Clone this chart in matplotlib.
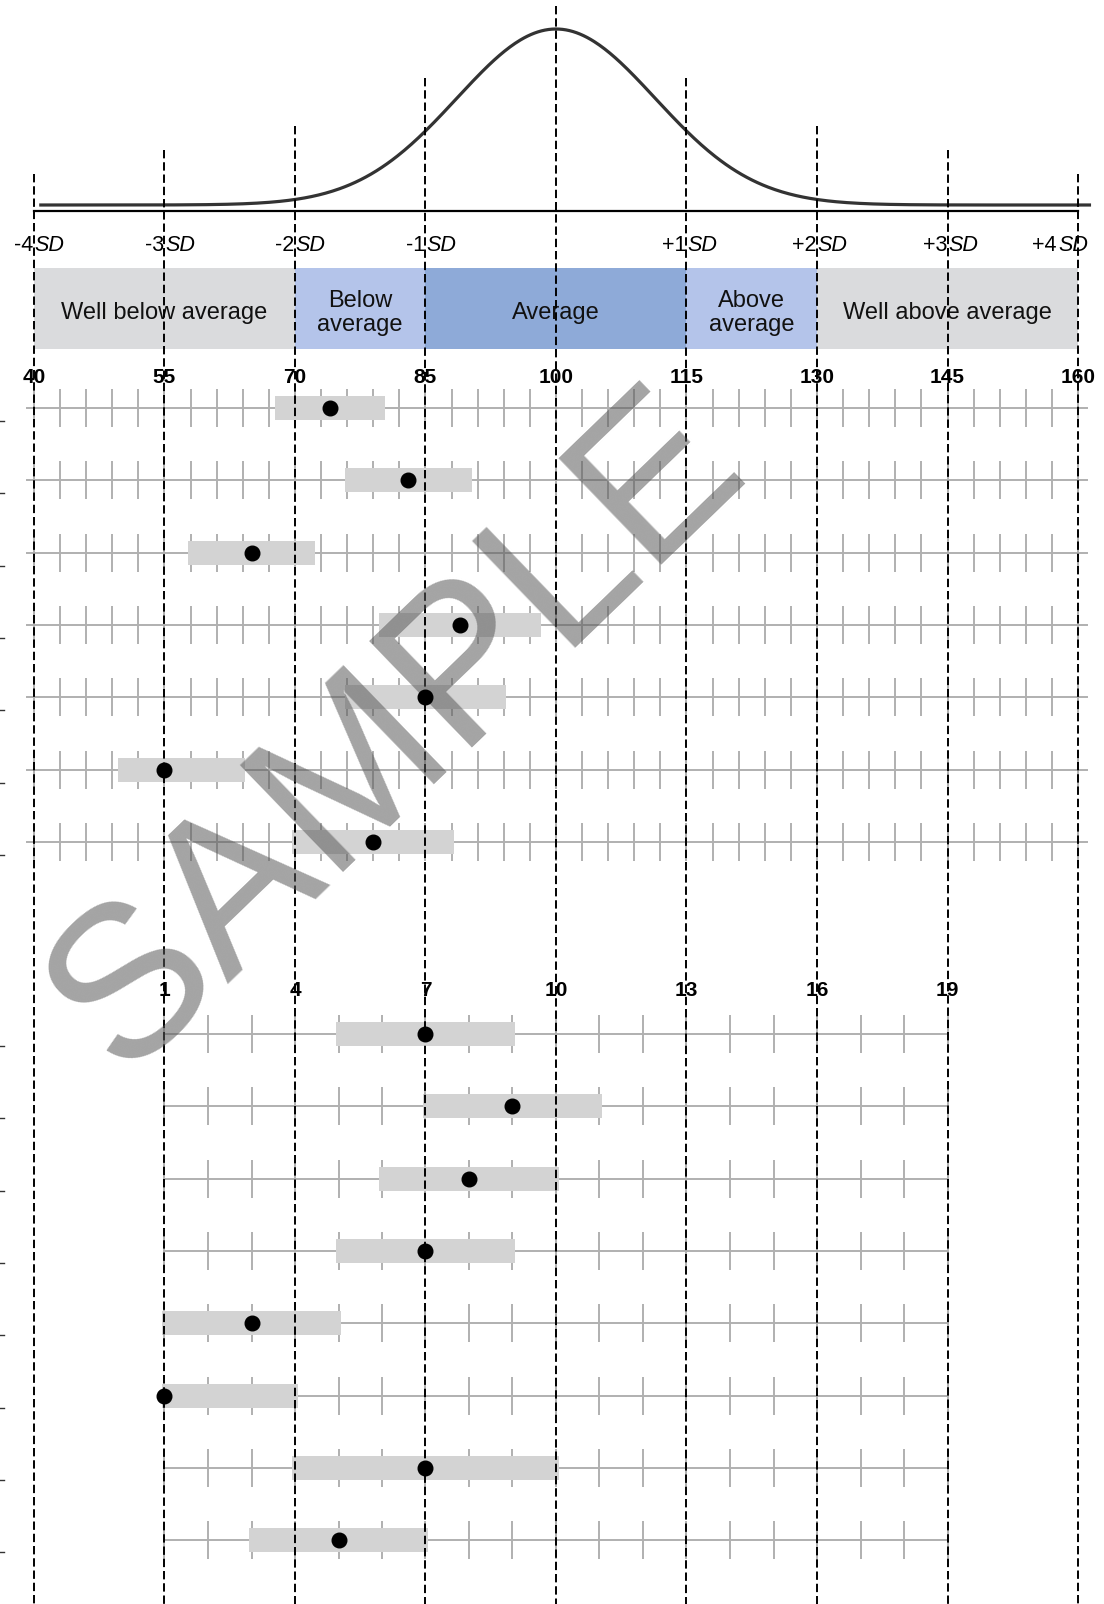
import numpy as np
import matplotlib
matplotlib.use("Agg")
import matplotlib.pyplot as plt

plt.rcParams['font.family'] = ['Liberation Sans', 'DejaVu Sans']

# ---------------- data ----------------
score_ticks = [40, 55, 70, 85, 100, 115, 130, 145, 160]
sd_numbers = ['-4', '-3', '-2', '-1', '', '+1', '+2', '+3', '+4']

band_edges = [40, 70, 85, 115, 130, 160]
band_labels = ['Well below average', 'Below\naverage', 'Average',
               'Above\naverage', 'Well above average']
band_colors = ['#dadbdd', '#b4c4ea', '#8eaad8', '#b4c4ea', '#dadbdd']

# composite / index scores (standard score scale)
index_scores = [74, 83, 65, 89, 85, 55, 79]
index_ci_low = [68, 76, 58, 80, 76, 50, 70]
index_ci_high = [80, 90, 72, 98, 94, 64, 88]

# subtest scaled scores (1-19 scale)
scaled_ticks = [1, 4, 7, 10, 13, 16, 19]
subtest_scores = [7, 9, 8, 7, 3, 1, 7, 5]
subtest_ci_low = [5, 7, 6, 5, 1, 1, 4, 3]
subtest_ci_high = [9, 11, 10, 9, 5, 4, 10, 7]

MEAN, SD = 100, 15
CURVE_WIDTH = 11.4   # visual spread of the drawn bell curve


def scaled_to_standard(s):
    return MEAN + (np.asarray(s, dtype=float) - 10) * 5


# ---------------- layout ----------------
W, H = 1104, 1604
PX_PER_UNIT = 8.7
X0 = 40 - 34 / PX_PER_UNIT
X1 = X0 + W / PX_PER_UNIT

fig = plt.figure(figsize=(W / 100, H / 100), dpi=100)
ax = fig.add_axes([0, 0, 1, 1])
ax.set_xlim(X0, X1)
ax.set_ylim(H, 0)
ax.axis('off')

curve_peak_y, curve_base_y, axis_y = 29, 205, 210.5
sd_label_y = 245.5
band_top, band_bot = 268, 349
band_text_y = 313
score_label_y = 377.5
upper_row0, row_gap = 408, 72.3
scaled_label_y = 990.5
lower_row0 = 1034
tick_half = 19
bar_half = 12
bar_pad = 0.3
dash_tops = {0: 6, 1: 78, 2: 126, 3: 150, 4: 174}

row_color = '#b0b0b0'
bar_color = '#d3d3d3'

# bands
for i, lab in enumerate(band_labels):
    a, b = band_edges[i], band_edges[i + 1]
    ax.fill_between([a, b], band_top, band_bot, color=band_colors[i], lw=0, zorder=1)
    ax.text((a + b) / 2, band_text_y, lab, ha='center', va='center',
            fontsize=17, linespacing=1.08, color='#111111', zorder=2)

# bell curve
xc = np.linspace(40.6, 161.5, 600)
yc = curve_base_y - (curve_base_y - curve_peak_y) * np.exp(-(xc - MEAN) ** 2 / (2 * CURVE_WIDTH ** 2))
ax.plot(xc, yc, color='#333333', lw=2.3, zorder=3, solid_capstyle='butt')
ax.plot([score_ticks[0], score_ticks[-1]], [axis_y, axis_y], color='black', lw=1.6, zorder=3)

# SD labels
for x, num in zip(score_ticks, sd_numbers):
    if num == '':
        continue
    split = min(x, 157.6)
    ax.text(split - 0.05, sd_label_y, num, ha='right', va='center', fontsize=15.5, zorder=2)
    ax.text(split + 0.1, sd_label_y, 'SD', ha='left', va='center', fontsize=15.5,
            style='italic', zorder=2)

# score labels
for x in score_ticks:
    ax.text(x, score_label_y, str(x), ha='center', va='center', fontsize=15,
            fontweight='bold', zorder=2)
for s in scaled_ticks:
    ax.text(scaled_to_standard(s), scaled_label_y, str(s), ha='center', va='center',
            fontsize=15, fontweight='bold', zorder=2)

# upper rows (index scores)
upper_ticks = np.arange(40, 161, 3)
for i, (sc, lo, hi) in enumerate(zip(index_scores, index_ci_low, index_ci_high)):
    y = upper_row0 + i * row_gap
    ax.plot([39.2, 161.0], [y, y], color=row_color, lw=1.4, zorder=2)
    ax.vlines(upper_ticks, y - tick_half, y + tick_half, color=row_color, lw=1.4, zorder=2)
    ax.fill_between([lo - bar_pad, hi + bar_pad], y - bar_half, y + bar_half,
                    color=bar_color, lw=0, zorder=3)
    ax.plot([sc], [y], 'o', color='black', ms=10.5, zorder=7)
    ax.plot([X0, X0 + 4 / PX_PER_UNIT], [y + 13, y + 13], color='#333333', lw=1, zorder=2)

# lower rows (subtest scaled scores)
lower_ticks = scaled_to_standard(np.arange(1, 20))
for i, (sc, lo, hi) in enumerate(zip(subtest_scores, subtest_ci_low, subtest_ci_high)):
    y = lower_row0 + i * row_gap
    ax.plot(scaled_to_standard([1, 19]), [y, y], color=row_color, lw=1.4, zorder=2)
    ax.vlines(lower_ticks, y - tick_half, y + tick_half, color=row_color, lw=1.4, zorder=2)
    ax.fill_between([scaled_to_standard(lo) - bar_pad, scaled_to_standard(hi) + bar_pad],
                    y - bar_half, y + bar_half, color=bar_color, lw=0, zorder=3)
    ax.plot([scaled_to_standard(sc)], [y], 'o', color='black', ms=10.5, zorder=7)
    ax.plot([X0, X0 + 4 / PX_PER_UNIT], [y + 12, y + 12], color='#333333', lw=1, zorder=2)

# dashed SD lines
for x in score_ticks:
    k = int(round(abs(x - MEAN) / SD))
    ax.plot([x, x], [dash_tops[k], H], color='black', lw=1.4,
            linestyle=(0, (4.3, 2.0)), zorder=4)

# watermark
ax.text(X0 + 397 / PX_PER_UNIT, 733, 'SAMPLE', rotation=44, rotation_mode='anchor',
        ha='center', va='center', fontsize=155, color='#595959', alpha=0.55, zorder=5)

fig.savefig('out.png', dpi=100)
